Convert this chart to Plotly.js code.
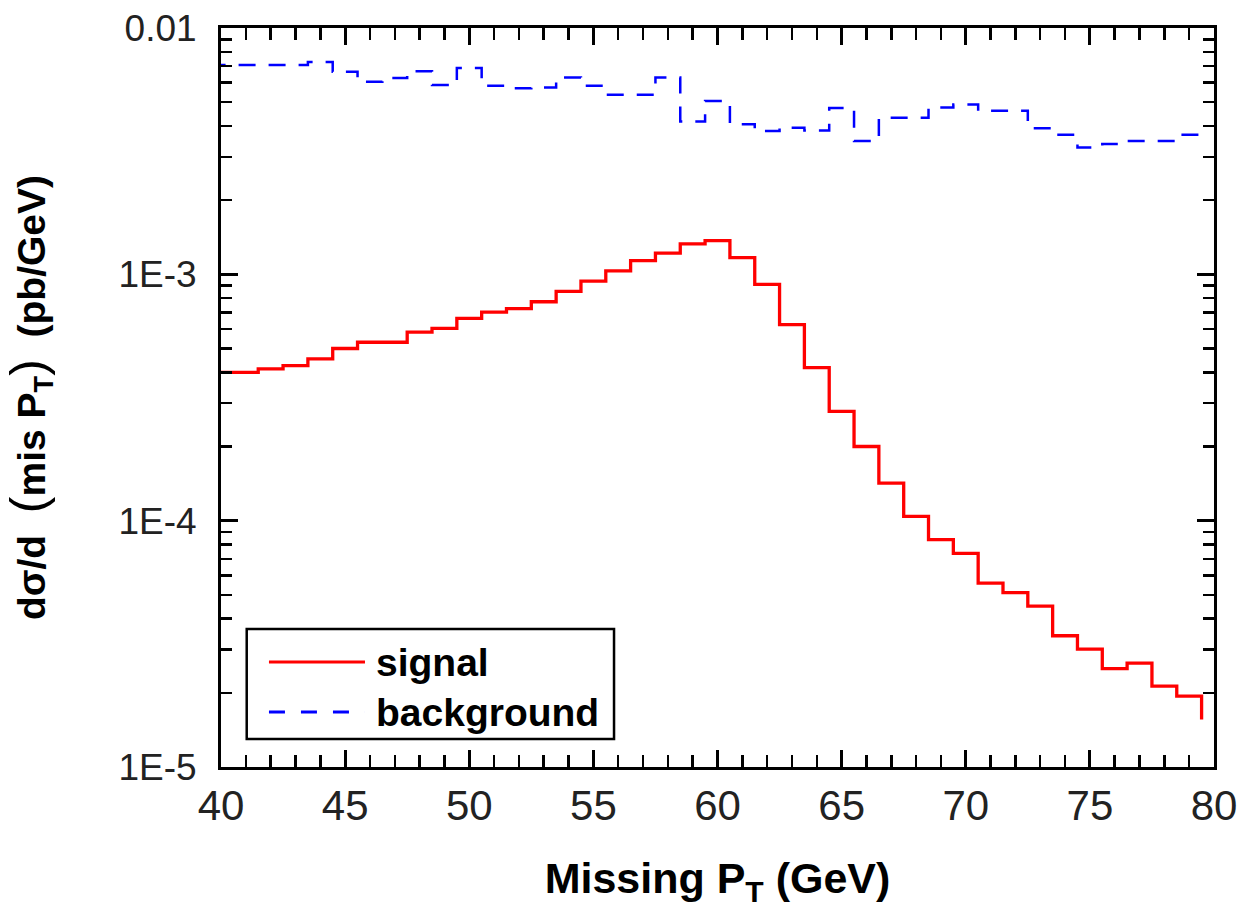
<!DOCTYPE html>
<html>
<head>
<meta charset="utf-8">
<script src="https://cdn.plot.ly/plotly-3.0.1.min.js"></script>
<style>
html,body{margin:0;padding:0;background:#fff;}
#chart{width:1239px;height:908px;}
</style>
</head>
<body>
<div id="chart"></div>
<script>
// Bin centres (GeV), 1 GeV wide bins
const signalBins = [40,41,42,43,44,45,46,47,48,49,50,51,52,53,54,55,56,57,58,59,60,
                    61,62,63,64,65,66,67,68,69,70,71,72,73,74,75,76,77,78,79,80];
const signalValues = [4.0e-4,4.0e-4,4.13e-4,4.26e-4,4.54e-4,5.0e-4,5.30e-4,5.30e-4,5.83e-4,6.03e-4,
                      6.63e-4,7.03e-4,7.26e-4,7.74e-4,8.52e-4,9.38e-4,1.033e-3,1.137e-3,1.22e-3,1.33e-3,
                      1.37e-3,1.17e-3,9.1e-4,6.25e-4,4.18e-4,2.78e-4,2.0e-4,1.42e-4,1.04e-4,8.37e-5,
                      7.37e-5,5.58e-5,5.10e-5,4.50e-5,3.41e-5,3.01e-5,2.51e-5,2.64e-5,2.13e-5,1.94e-5,1.56e-5];

const backgroundBins = [40,41,42,43,44,45,46,47,48,49,50,51,52,53,54,55,56,57,58,59,
                        60,61,62,63,64,65,66,67,68,69,70,71,72,73,74,75,76,77,78,79];
const backgroundValues = [7.07e-3,7.07e-3,7.07e-3,7.07e-3,7.27e-3,6.64e-3,6.05e-3,6.26e-3,6.67e-3,5.87e-3,
                          6.88e-3,5.83e-3,5.70e-3,5.74e-3,6.3e-3,5.83e-3,5.36e-3,5.36e-3,6.3e-3,4.17e-3,
                          5.05e-3,4.07e-3,3.82e-3,3.94e-3,3.84e-3,4.73e-3,3.48e-3,4.32e-3,4.32e-3,4.76e-3,
                          4.89e-3,4.61e-3,4.61e-3,3.92e-3,3.69e-3,3.27e-3,3.38e-3,3.48e-3,3.48e-3,3.69e-3];

const xTickVals = [40,45,50,55,60,65,70,75,80];
const yTickVals = [1e-5,1e-4,1e-3,1e-2];
const yTickText = ['1E-5','1E-4','1E-3','0.01'];
const yMinorVals = [];
[1e-5,1e-4,1e-3].forEach(d => { for (let k = 2; k <= 9; k++) yMinorVals.push(k*d); });

const seriesNames = ['signal','background'];

// histogram step lines: left edges, 'hv' shape
const sigX = signalBins.map(c => c - 0.5);
const bgX = backgroundBins.map(c => c - 0.5);
bgX.push(backgroundBins[backgroundBins.length-1] + 0.5);
const bgY = backgroundValues.slice();
bgY.push(backgroundValues[backgroundValues.length-1]);

const FONT = '"Liberation Sans", Arial, Helvetica, sans-serif';

const traces = [
  {x: sigX, y: signalValues, type:'scatter', mode:'lines', name: seriesNames[0],
   line:{shape:'hv', color:'#ff0000', width:3.3}, showlegend:false},
  {x: bgX, y: bgY, type:'scatter', mode:'lines', name: seriesNames[1],
   line:{shape:'hv', color:'#0000ff', width:2.5, dash:'17px,13px'}, showlegend:false},
  {x: [], y: [], type:'scatter', mode:'lines', yaxis:'y2', showlegend:false, hoverinfo:'skip'}
];

// legend (drawn manually)
const L = {x0:0.0259, x1:0.3958, y0:0.0379, y1:0.1867};
const layout = {
  width:1239, height:908,
  margin:{l:221, r:25, t:28, b:141},
  paper_bgcolor:'#fff', plot_bgcolor:'#fff',
  showlegend:false,
  xaxis:{
    range:[40,80], type:'linear',
    tickvals:xTickVals, ticktext:xTickVals.map(String),
    ticks:'inside', ticklen:17, tickwidth:3, tickcolor:'#000',
    minor:{dtick:1, tick0:40, ticks:'inside', ticklen:12, tickwidth:2.5, tickcolor:'#000', showgrid:false},
    showline:true, linewidth:3, linecolor:'#000', mirror:'ticks',
    showgrid:false, zeroline:false,
    tickfont:{family:FONT, size:42, color:'#222'},
    ticklabelstandoff:0,
    title:{text:'<b>Missing P<sub>T</sub> (GeV)</b>', font:{family:FONT, size:43, color:'#000'}, standoff:40}
  },
  yaxis:{
    type:'log', range:[-5,-2],
    tickvals:yTickVals, ticktext:yTickText,
    ticks:'inside', ticklen:17, tickwidth:3, tickcolor:'#000',
    showline:true, linewidth:3, linecolor:'#000', mirror:'ticks',
    showgrid:false, zeroline:false,
    tickfont:{family:FONT, size:37, color:'#222'},
    ticklabelstandoff:14,
    title:{text:'<b>dσ/d</b>  <span style="font-size:50px">(</span><b>mis P<sub>T</sub></b><span style="font-size:50px">)</span>  <b>(pb/GeV)</b>',
           font:{family:FONT, size:39, color:'#000'}, standoff:62}
  },
  yaxis2:{
    type:'log', range:[-5,-2], overlaying:'y', anchor:'x', side:'left',
    tickvals:yMinorVals, showticklabels:false,
    ticks:'inside', ticklen:11, tickwidth:2.5, tickcolor:'#000',
    showline:false, mirror:'ticks', showgrid:false, zeroline:false
  },
  shapes:[
    {type:'rect', xref:'paper', yref:'paper', x0:L.x0, x1:L.x1, y0:L.y0, y1:L.y1,
     line:{color:'#000', width:2.5}, fillcolor:'#fff'},
    {type:'line', xref:'paper', yref:'paper', x0:0.0483, x1:0.145, y0:0.142, y1:0.142,
     line:{color:'#ff0000', width:3}},
    {type:'line', xref:'paper', yref:'paper', x0:0.0483, x1:0.145, y0:0.0744, y1:0.0744,
     line:{color:'#0000ff', width:3, dash:'16px,16px'}}
  ],
  annotations:[
    {xref:'paper', yref:'paper', x:0.154, y:0.142, xanchor:'left', yanchor:'middle',
     text:'<b>'+seriesNames[0]+'</b>', showarrow:false, font:{family:FONT, size:39, color:'#000'}},
    {xref:'paper', yref:'paper', x:0.154, y:0.0744, xanchor:'left', yanchor:'middle',
     text:'<b>'+seriesNames[1]+'</b>', showarrow:false, font:{family:FONT, size:39, color:'#000'}}
  ]
};

Plotly.newPlot('chart', traces, layout, {displayModeBar:false, staticPlot:true});
</script>
</body>
</html>
